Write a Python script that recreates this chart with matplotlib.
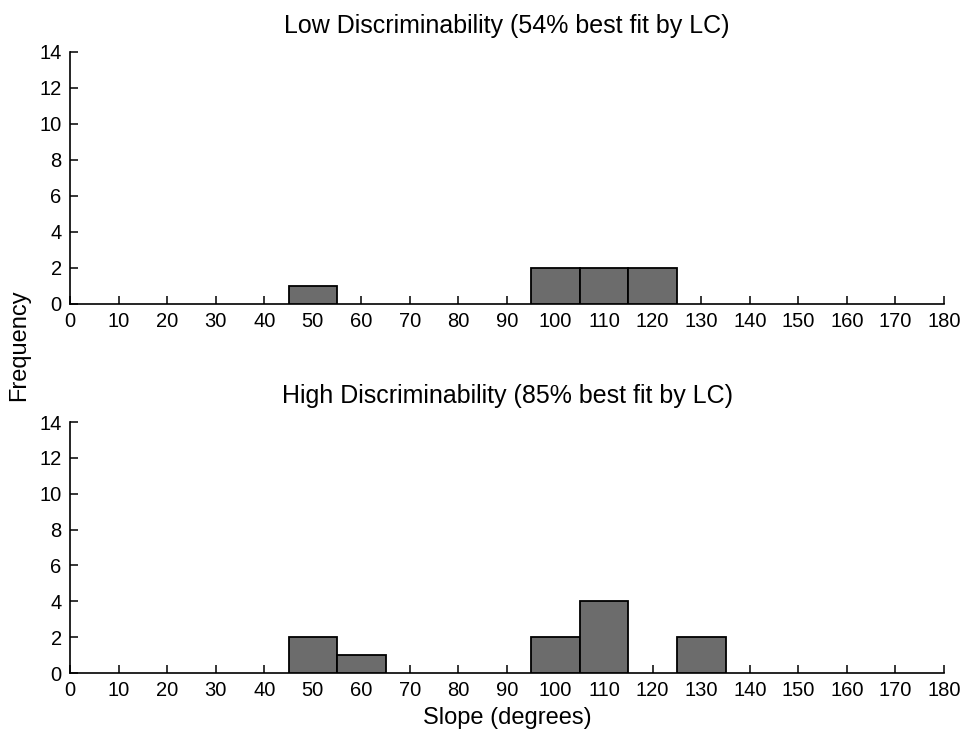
import matplotlib
matplotlib.use("Agg")
import matplotlib.pyplot as plt
import numpy as np

plt.rcParams["font.family"] = ["Liberation Sans", "DejaVu Sans"]

# slope histograms, 10-degree bins (centres) and counts
low_centres = [50, 100, 110, 120]
low_counts = [1, 2, 2, 2]
high_centres = [50, 60, 100, 110, 130]
high_counts = [2, 1, 2, 4, 2]

titles = [
    "Low Discriminability (54% best fit by LC)",
    "High Discriminability (85% best fit by LC)",
]
xticks = np.arange(0, 181, 10)
yticks = np.arange(0, 15, 2)

fig = plt.figure(figsize=(9.62, 7.29), dpi=100)
ax1 = fig.add_axes([0.0728, 0.583, 0.9085, 0.3457])
ax2 = fig.add_axes([0.0728, 0.0768, 0.9085, 0.3443])

for ax, centres, counts, title in zip(
    [ax1, ax2], [low_centres, high_centres], [low_counts, high_counts], titles
):
    ax.bar(centres, counts, width=10, color="#6c6c6c", edgecolor="black",
           linewidth=1.3, zorder=3)
    ax.set_xlim(0, 180)
    ax.set_ylim(0, 14)
    ax.set_xticks(xticks)
    ax.set_yticks(yticks)
    ax.spines["top"].set_visible(False)
    ax.spines["right"].set_visible(False)
    for s in ["left", "bottom"]:
        ax.spines[s].set_linewidth(1.2)
    ax.tick_params(direction="in", length=6, width=1.1, labelsize=14.5, pad=6)
    ax.set_title(title, fontsize=18, pad=14)

ax2.set_xlabel("Slope (degrees)", fontsize=17, labelpad=5)
fig.text(0.02, 0.527, "Frequency", rotation=90, fontsize=17,
         ha="center", va="center")

fig.savefig("out.png", dpi=100)
